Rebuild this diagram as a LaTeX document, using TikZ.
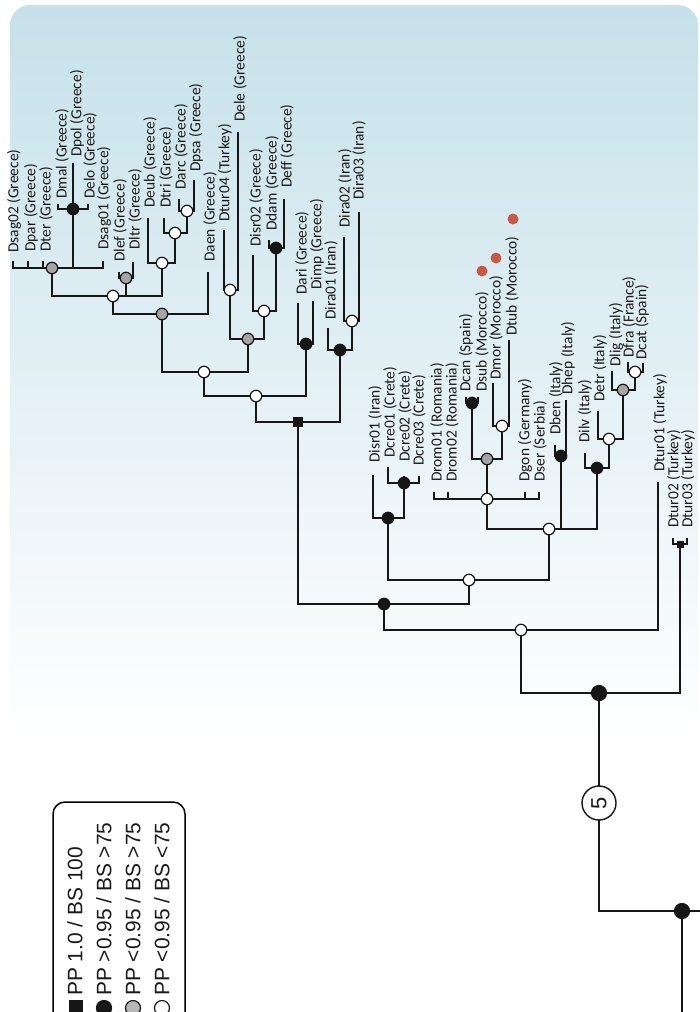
\documentclass[tikz,border=0pt]{standalone}
\usepackage{fontspec}
\setmainfont{Carlito}
\newfontfamily\legfont{Liberation Sans}
\definecolor{bgtop}{RGB}{198,225,234}
\definecolor{ln}{RGB}{22,22,22}
\definecolor{gfill}{RGB}{165,165,165}
\definecolor{reddot}{RGB}{200,88,72}
\definecolor{txt}{RGB}{25,25,25}
\tikzset{
  br/.style={line width=2.8bp, draw=ln},
  wn/.style={circle, draw=ln, line width=1.2bp, fill=white, inner sep=0pt, minimum size=11.5bp},
  gn/.style={wn, fill=gfill},
  bn/.style={wn, fill=ln},
  bbn/.style={bn, minimum size=15bp},
  sqn/.style={rectangle, fill=ln, inner sep=0pt, minimum size=10bp},
  lab/.style={rotate=90, anchor=west, inner sep=0pt, font=\fontsize{15.5}{15.5}\selectfont, text=txt},
  leg/.style={rotate=90, anchor=west, inner sep=0pt, font=\legfont\fontsize{21}{21}\selectfont, text=txt},
  rdot/.style={circle, fill=reddot, inner sep=0pt, minimum size=11bp},
}
\newcommand{\leaf}[6]{\coordinate (#1) at (#2,#3); \node[lab] (#1-l) at (#4,#5) {#6};}
\begin{document}
\begin{tikzpicture}[x=1bp,y=-1bp]
\useasboundingbox (0,0) rectangle (700,1012);
\fill[white] (0,0) rectangle (700,1012);
\shade[top color=bgtop, bottom color=white, rounded corners=20bp] (10,740) -- (10,5) -- (698,5) -- (698,740) -- cycle;

% leaves
\leaf{Dsag02}{13}{261}{14}{253}{Dsag02 (Greece)}
\leaf{Dpar}{28}{261}{31}{252}{Dpar (Greece)}
\leaf{Dter}{43}{261}{46}{252}{Dter (Greece)}
\leaf{Dmal}{58}{204}{62}{199}{Dmal (Greece)}
\leaf{Dpol}{73}{163}{77}{157}{Dpol (Greece)}
\leaf{Delo}{88}{204}{90}{199}{Delo (Greece)}
\leaf{Dsag01}{103}{261}{104}{250}{Dsag01 (Greece)}
\leaf{Dlef}{119}{272}{120}{262}{Dlef (Greece)}
\leaf{Dltr}{133}{262}{135}{250}{Dltr (Greece)}
\leaf{Deub}{148}{218}{150}{208}{Deub (Greece)}
\leaf{Dtri}{164}{218}{166}{208}{Dtri (Greece)}
\leaf{Darc}{179}{199}{181}{190}{Darc (Greece)}
\leaf{Dpsa}{194}{180}{196}{172}{Dpsa (Greece)}
\leaf{Daen}{208}{272}{210}{262}{Daen (Greece)}
\leaf{Dtur04}{224}{230}{225}{222}{Dtur04 (Turkey)}
\leaf{Dele}{238}{132}{240}{122}{Dele (Greece)}
\leaf{Disr02}{253}{255}{256}{247}{Disr02 (Greece)}
\leaf{Ddam}{269}{240}{272}{231}{Ddam (Greece)}
\leaf{Deff}{284}{199}{287}{188}{Deff (Greece)}
\leaf{Dari}{298}{303}{302}{295}{Dari (Greece)}
\leaf{Dimp}{313}{301}{317}{290}{Dimp (Greece)}
\leaf{Dira01}{328}{328}{331}{320}{Dira01 (Iran)}
\leaf{Dira02}{344}{237}{345}{228}{Dira02 (Iran)}
\leaf{Dira03}{359}{212}{359}{200}{Dira03 (Iran)}
\leaf{Disr01}{373}{475}{375}{463}{Disr01 (Iran)}
\leaf{Dcre01}{388}{467}{390}{458}{Dcre01 (Crete)}
\leaf{Dcre02}{404}{476}{405}{462}{Dcre02 (Crete)}
\leaf{Dcre03}{419}{476}{419}{466}{Dcre03 (Crete)}
\leaf{Drom01}{434}{492}{437}{482}{Drom01 (Romania)}
\leaf{Drom02}{448}{492}{452}{482}{Drom02 (Romania)}
\leaf{Dcan}{466}{397}{466}{392}{Dcan (Spain)}
\leaf{Dsub}{478}{397}{482}{392}{Dsub (Morocco)}
\leaf{Dmor}{493}{383}{496}{380}{Dmor (Morocco)}
\leaf{Dtub}{509}{340}{512}{336}{Dtub (Morocco)}
\leaf{Dgon}{525}{492}{525}{482}{Dgon (Germany)}
\leaf{Dser}{539}{492}{540}{482}{Dser (Serbia)}
\leaf{Dben}{555}{445}{556}{435}{Dben (Italy)}
\leaf{Dhep}{566}{400}{568}{395}{Dhep (Italy)}
\leaf{Dilv}{585}{453}{585}{443}{Dilv (Italy)}
\leaf{Detr}{598}{411}{600}{402}{Detr (Italy)}
\leaf{Dlig}{612}{371}{616}{367}{Dlig (Italy)}
\leaf{Dfra}{628}{362}{629}{358}{Dfra (France)}
\leaf{Dcat}{643}{363}{642}{360}{Dcat (Spain)}
\leaf{Dtur01}{658}{482}{660}{472}{Dtur01 (Turkey)}
\leaf{Dtur02}{673}{538}{674}{528}{Dtur02 (Turkey)}
\leaf{Dtur03}{687}{538}{688}{528}{Dtur03 (Turkey)}

% internal nodes
\coordinate (A1) at (52,268);
\coordinate (A2) at (73,209);
\coordinate (A3) at (126,278);
\coordinate (A4) at (162,263);
\coordinate (A5) at (175,233);
\coordinate (A6) at (187,211);
\coordinate (A7) at (113,296);
\coordinate (A8) at (162,314);
\coordinate (A9) at (230,290);
\coordinate (A10) at (276,248);
\coordinate (A11) at (264,311);
\coordinate (A12) at (248,339);
\coordinate (A13) at (204,372);
\coordinate (A14) at (306,344);
\coordinate (A15) at (256,396);
\coordinate (A16) at (352,321);
\coordinate (A17) at (340,350);
\coordinate (A18) at (298,422);
\coordinate (B1) at (404,483);
\coordinate (B2) at (388,518);
\coordinate (B3) at (472,403);
\coordinate (B4) at (502,426);
\coordinate (B5) at (487,459);
\coordinate (B6) at (487,499);
\coordinate (B7) at (561,456);
\coordinate (B8) at (635,372);
\coordinate (B9) at (623,390);
\coordinate (B10) at (609,439);
\coordinate (B11) at (597,468);
\coordinate (B12) at (549,529);
\coordinate (B13) at (469,580);
\coordinate (R1) at (384,604);
\coordinate (R2) at (521,630);
\coordinate (T1) at (680,544);
\coordinate (R3) at (599,693);
\coordinate (R4) at (682,911);
\coordinate (offR) at (700,911);
\coordinate (offB) at (682,1012);

% branches
\foreach \p/\c in {
  A2/Dmal, A2/Dpol, A2/Delo,
  A1/Dsag02, A1/Dpar, A1/Dter, A1/A2, A1/Dsag01,
  A3/Dlef, A3/Dltr,
  A6/Darc, A6/Dpsa, A5/Dtri, A5/A6, A4/Deub, A4/A5,
  A7/A1, A7/A3, A7/A4,
  A8/A7, A8/Daen,
  A9/Dtur04, A9/Dele, A10/Ddam, A10/Deff, A11/Disr02, A11/A10,
  A12/A9, A12/A11, A13/A8, A13/A12,
  A14/Dari, A14/Dimp, A15/A13, A15/A14,
  A16/Dira02, A16/Dira03, A17/Dira01, A17/A16,
  A18/A15, A18/A17,
  B1/Dcre01, B1/Dcre02, B1/Dcre03, B2/Disr01, B2/B1,
  B3/Dcan, B3/Dsub, B4/Dmor, B4/Dtub, B5/B3, B5/B4,
  B6/Drom01, B6/Drom02, B6/B5, B6/Dgon, B6/Dser,
  B7/Dben, B7/Dhep,
  B8/Dfra, B8/Dcat, B9/Dlig, B9/B8, B10/Detr, B10/B9, B11/Dilv, B11/B10,
  B12/B6, B12/B7, B12/B11,
  B13/B2, B13/B12,
  R1/A18, R1/B13,
  R2/R1, R2/Dtur01,
  T1/Dtur02, T1/Dtur03,
  R3/R2, R3/T1,
  R4/R3}
  \draw[br] (\p) -| (\c);
\draw[br] (R4) -- (offR);
\draw[br] (R4) -- (offB);

% markers
\foreach \n in {A4,A5,A6,A7,A9,A11,A13,A15,A16,B4,B6,B8,B10,B12,B13,R2}
  \node[wn] (m\n) at (\n) {};
\foreach \n in {A1,A3,A8,A12,B5,B9}
  \node[gn] (m\n) at (\n) {};
\foreach \n in {A2,A10,A14,A17,B1,B2,B3,B7,B11,R1}
  \node[bn] (m\n) at (\n) {};
\node[bbn] (mR3) at (R3) {};
\node[bbn] (mR4) at (R4) {};
\node[sqn] (mA18) at (A18) {};
\node[sqn, minimum size=7bp] (mT1) at (T1) {};

\node[circle, draw=ln, line width=1.4bp, fill=white, minimum size=34bp, inner sep=0pt, rotate=90, font=\legfont\fontsize{22}{22}\selectfont, text=txt] (c5) at (599,803) {5};

% red dots
\node[rdot] (rd1) at (482,271) {};
\node[rdot] (rd2) at (496,258) {};
\node[rdot] (rd3) at (513,219) {};

% legend
\draw[line width=1.5bp, fill=white, rounded corners=12bp] (53,802) rectangle (185,1040);
\node[leg] (lg1) at (75,996) {PP 1.0 / BS 100};
\node[leg] (lg2) at (104,996) {PP >0.95 / BS >75};
\node[leg] (lg3) at (133,996) {PP <0.95 / BS >75};
\node[leg] (lg4) at (162,996) {PP <0.95 / BS <75};
\node[sqn, minimum size=14bp] (ls1) at (76,1007) {};
\node[bn, minimum size=15bp] (ls2) at (104,1008) {};
\node[gn, minimum size=15bp, fill=gfill!80] (ls3) at (133,1008) {};
\node[wn, minimum size=15bp] (ls4) at (162,1008) {};
\end{tikzpicture}
\end{document}
